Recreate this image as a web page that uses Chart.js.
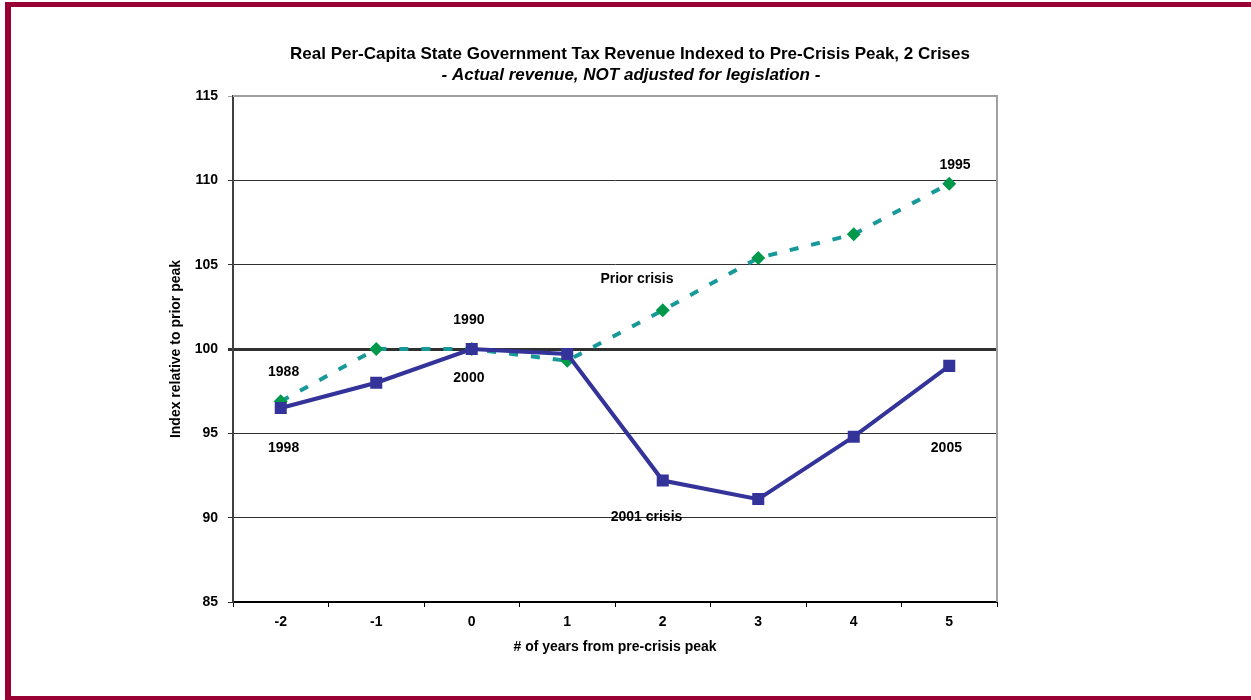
<!DOCTYPE html>
<html>
<head>
<meta charset="utf-8">
<script src="https://cdn.jsdelivr.net/npm/chart.js@4/dist/chart.umd.min.js"></script>
<style>
  html, body { margin: 0; padding: 0; background: #fff; }
  #wrap { width: 1251px; height: 700px; }
</style>
</head>
<body>
<div id="wrap"><canvas id="chart" width="1251" height="700"></canvas></div>
<script>
const years = ['-2', '-1', '0', '1', '2', '3', '4', '5']
const crisis2001 = [96.5, 98.0, 100.0, 99.7, 92.2, 91.1, 94.8, 99.0]
const priorCrisis = [96.9, 100.0, 100.0, 99.3, 102.3, 105.4, 106.8, 109.8]
const yTicks = [85, 90, 95, 100, 105, 110, 115]

// labels placed in data space: [text, category index, value]
const notes = [
  ['1988', 0.03, 98.6],
  ['1998', 0.03, 94.1],
  ['1990', 1.97, 101.7],
  ['2000', 1.97, 98.3],
  ['Prior crisis', 3.73, 104.15],
  ['2001 crisis', 3.83, 90.05],
  ['1995', 7.06, 110.9],
  ['2005', 6.97, 94.1]
]

const titleText = 'Real Per-Capita State Government Tax Revenue Indexed to Pre-Crisis Peak, 2 Crises'
const subtitleText = '- Actual revenue, NOT adjusted for legislation -'

const FONT = '"Liberation Sans", Arial, sans-serif'

const decor = {
  id: 'decor',
  beforeDraw (chart) {
    const { ctx, width, height } = chart
    ctx.save()
    ctx.fillStyle = '#fff'
    ctx.fillRect(0, 0, width, height)
    ctx.fillStyle = '#990033'
    ctx.fillRect(5, 2, width - 5, 5)
    ctx.fillRect(5, 2, 6, height - 2)
    ctx.fillRect(5, 696, width - 5, 4)
    ctx.fillStyle = '#000'
    ctx.textAlign = 'center'
    ctx.textBaseline = 'middle'
    ctx.font = 'bold 17px ' + FONT
    ctx.fillText(titleText, 630, 54)
    ctx.font = 'italic bold 17px ' + FONT
    ctx.fillText(subtitleText, 631, 75)
    ctx.restore()
  },
  beforeDatasetsDraw (chart) {
    const { ctx, chartArea: a } = chart
    ctx.save()
    ctx.strokeStyle = '#a0a0a0'
    ctx.lineWidth = 2
    ctx.beginPath()
    ctx.moveTo(a.left, a.top)
    ctx.lineTo(a.right, a.top)
    ctx.lineTo(a.right, a.bottom)
    ctx.stroke()
    ctx.restore()
  },
  afterDatasetsDraw (chart) {
    const { ctx } = chart
    const x = chart.scales.x
    const y = chart.scales.y
    ctx.save()
    ctx.fillStyle = '#000'
    ctx.textAlign = 'center'
    ctx.textBaseline = 'middle'
    ctx.font = 'bold 14px ' + FONT
    notes.forEach(([t, i, v]) => {
      const px = x.getPixelForValue(0) + i * (x.getPixelForValue(1) - x.getPixelForValue(0))
      ctx.fillText(t, px, y.getPixelForValue(v))
    })
    ctx.restore()
  }
}

new Chart(document.getElementById('chart'), {
  type: 'line',
  data: {
    labels: years,
    datasets: [
      {
        label: '2001 crisis',
        data: crisis2001,
        borderColor: '#333399',
        backgroundColor: '#333399',
        borderWidth: 4,
        pointStyle: 'rect',
        pointRadius: 8.5,
        pointBorderWidth: 0,
        tension: 0
      },
      {
        label: 'Prior crisis',
        data: priorCrisis,
        borderColor: '#17999a',
        backgroundColor: '#00994c',
        borderWidth: 4,
        borderDash: [9, 13],
        borderCapStyle: 'butt',
        pointStyle: 'rectRot',
        pointRadius: 7,
        pointBorderWidth: 0,
        tension: 0
      }
    ]
  },
  options: {
    responsive: false,
    animation: false,
    events: [],
    layout: {
      autoPadding: false,
      padding: { left: 164, right: 254, top: 96, bottom: 40 }
    },
    plugins: {
      legend: { display: false },
      tooltip: { enabled: false }
    },
    scales: {
      x: {
        offset: true,
        afterFit (s) { s.height = 58 },
        grid: {
          offset: true,
          drawOnChartArea: false,
          drawTicks: true,
          tickLength: 5,
          color: '#000'
        },
        border: { color: '#000', width: 2 },
        ticks: {
          color: '#000',
          padding: 7,
          font: { family: FONT, size: 14, weight: 'bold' }
        },
        title: {
          display: true,
          text: '# of years from pre-crisis peak',
          color: '#000',
          font: { family: FONT, size: 14, weight: 'bold' }
        }
      },
      y: {
        min: 85,
        max: 115,
        afterFit (s) { s.width = 69 },
        afterBuildTicks (s) { s.ticks = yTicks.map(v => ({ value: v })) },
        grid: {
          tickLength: 5,
          color: c => (c.tick && c.tick.value === 115 ? '#a0a0a0' : '#303030'),
          lineWidth: c => (c.tick && c.tick.value === 100 ? 3 : 1)
        },
        border: { color: '#404040', width: 2 },
        ticks: {
          color: '#000',
          padding: 10,
          font: { family: FONT, size: 14, weight: 'bold' }
        },
        title: {
          display: true,
          text: 'Index relative to prior peak',
          color: '#000',
          font: { family: FONT, size: 14, weight: 'bold' }
        }
      }
    }
  },
  plugins: [decor]
})
</script>
</body>
</html>
